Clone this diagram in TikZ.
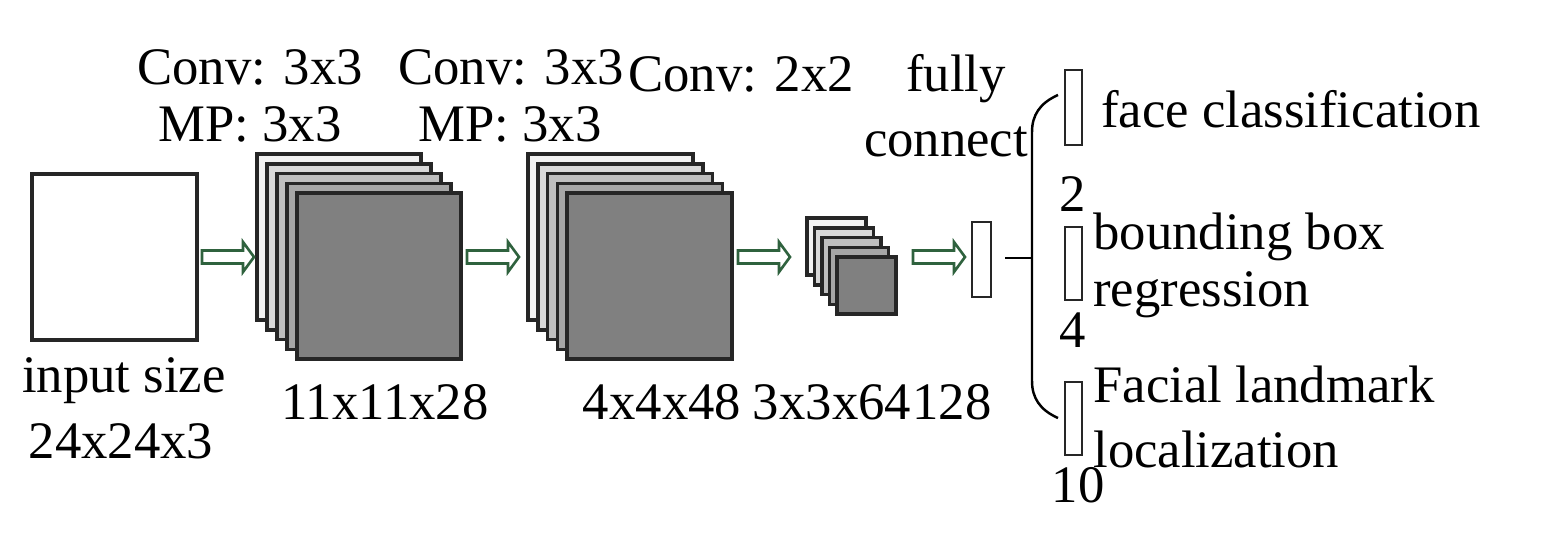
\documentclass[tikz,border=0pt]{standalone}
\usepackage{fontspec}
\setmainfont[Ligatures=NoCommon]{Liberation Serif}
\usetikzlibrary{positioning}
\definecolor{flowgreen}{RGB}{47,98,62}
\tikzset{
    lbl/.style = {inner sep=0pt, anchor=base, font=\fontsize{30}{36}\selectfont},
    lbll/.style = {lbl, anchor=base west},
    layer/.style = {draw=black!85, line width=2pt, line join=miter},
    bar/.style = {rectangle, draw=black!85, fill=white, line width=1.6pt, inner sep=0pt},
    pics/flowarrow/.style = {code={
        \draw[draw=flowgreen, fill=white, line width=1.5pt]
            (0,-6.5) -- (41,-6.5) -- (41,-15) -- (52,0) -- (41,15) -- (41,6.5) -- (0,6.5) -- cycle;
    }},
}
\begin{document}
\begin{tikzpicture}[x=0.02cm, y=-0.02cm]
\useasboundingbox (0,0) rectangle (1558,550);
% input
\node[layer, rectangle, fill=white, inner sep=0pt, minimum width=3.3cm, minimum height=3.32cm] (input) at (114.5,257) {};
\node[lbl] (insize) at (124,393) {input size};
\node[lbl] (indim) at (121,458) {24x24x3};
% feature maps
\foreach \i/\c in {0/5,1/15,2/25,3/35,4/50} {
    \filldraw[layer, fill=black!\c] (257+10*\i,154+9.8*\i) rectangle ++(164,166);
    \filldraw[layer, fill=black!\c] (528+9.8*\i,154+9.8*\i) rectangle ++(165,166);
    \filldraw[layer, fill=black!\c] (807+7.5*\i,218+9.8*\i) rectangle ++(59,57);
}
\node[bar, minimum width=0.38cm, minimum height=1.5cm] (fc) at (981.5,259.5) {};
% arrows
\pic at (202,257) {flowarrow};
\pic at (467,257) {flowarrow};
\pic at (738,257) {flowarrow};
\pic at (913,257) {flowarrow};
% top labels
\node[lbl] (conva) at (250,85) {Conv: 3x3};
\node[lbl] (mpa) at (250,142) {MP: 3x3};
\node[lbl] (convb) at (511,85) {Conv: 3x3};
\node[lbl] (mpb) at (510,142) {MP: 3x3};
\node[lbl] (convc) at (741,92) {Conv: 2x2};
\node[lbl] (fully) at (956,92) {fully};
\node[lbl] (connect) at (946,157) {connect};
% sizes
\node[lbl] (dima) at (385,419) {11x11x28};
\node[lbl] (dimb) at (662,419) {4x4x48};
\node[lbl] (dimc) at (832,419) {3x3x64};
\node[lbl] (dimfc) at (952,419) {128};
% outputs
\coordinate (fcout) at (1005,258);
\coordinate (split) at (1032,258);
\draw[line width=1.4pt] (fcout) -- (split);
\draw[line width=1.4pt] (1058,95) .. controls (1040,103) and (1032,115) .. (1032,132)
    -- (1032,381) .. controls (1032,398) and (1040,410) .. (1058,418);
\node[bar, minimum width=0.34cm, minimum height=1.5cm] (cls) at (1073.5,107.5) {};
\node[bar, minimum width=0.34cm, minimum height=1.46cm] (box) at (1073.5,263.5) {};
\node[bar, minimum width=0.34cm, minimum height=1.46cm] (lmk) at (1073.5,418.5) {};
\node[lbl] (ncls) at (1073,212) {2};
\node[lbl] (nbox) at (1073,348) {4};
\node[lbl] (nlmk) at (1078,502) {10};
\node[lbll] (tcls) at (1101,128) {face classification};
\node[lbll] (tboxa) at (1093,250) {bounding box};
\node[lbll] (tboxb) at (1093,307) {regression};
\node[lbll] (tlmka) at (1093,402) {Facial landmark};
\node[lbll] (tlmkb) at (1093,467) {localization};
\end{tikzpicture}
\end{document}
